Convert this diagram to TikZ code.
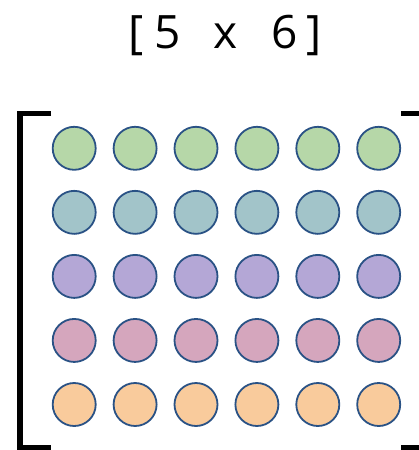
\documentclass[tikz,border=0pt]{standalone}
\usepackage{fontspec}
\newfontfamily\titlefont{Open Sans}
\definecolor{cgreen}{HTML}{B6D7A8}
\definecolor{cteal}{HTML}{A2C4C9}
\definecolor{cpurple}{HTML}{B4A7D6}
\definecolor{cpink}{HTML}{D5A6BD}
\definecolor{corange}{HTML}{F9CB9C}
\definecolor{cedge}{HTML}{2A5285}
\begin{document}
\begin{tikzpicture}[x=1pt,y=-1pt,
  cell/.style={circle,draw=cedge,line width=1.8pt,minimum size=43pt,inner sep=0pt},
  titlechar/.style={font=\titlefont\fontsize{46}{52}\selectfont,inner sep=0pt,anchor=base},
  bracketline/.style={line width=5.5pt,black,line join=miter,line cap=butt}]
\useasboundingbox (0,0) rectangle (419,450);
\clip (0,0) rectangle (419,450);
\node[titlechar] (t1) at (136,48.5) {[};
\node[titlechar] (t2) at (167.5,48.5) {5};
\node[titlechar] (t3) at (225.5,48.5) {x};
\node[titlechar] (t4) at (285,48.5) {6};
\node[titlechar] (t5) at (314.5,48.5) {]};
\foreach \r/\col in {1/cgreen,2/cteal,3/cpurple,4/cpink,5/corange}{
  \foreach \c in {1,...,6}{
    \node[cell,fill=\col] (c-\r-\c) at ({74.2+60.9*(\c-1)},{148.3+64.05*(\r-1)}) {};
  }
}
\coordinate (lt) at (51,113.5);
\coordinate (ltc) at (20,113.5);
\coordinate (lbc) at (20,447.5);
\coordinate (lb) at (51,447.5);
\draw[bracketline] (lt) -- (ltc) -- (lbc) -- (lb);
\coordinate (rt) at (401,113.5);
\coordinate (rtc) at (425,113.5);
\coordinate (rbc) at (425,447.5);
\coordinate (rb) at (401,447.5);
\draw[bracketline] (rt) -- (rtc) -- (rbc) -- (rb);
\end{tikzpicture}
\end{document}
